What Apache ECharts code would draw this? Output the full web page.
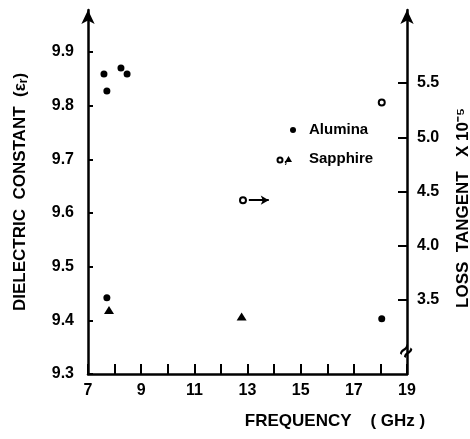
<!DOCTYPE html>
<html>
<head>
<meta charset="utf-8">
<title>Dielectric constant / loss tangent</title>
<script src="https://cdn.jsdelivr.net/npm/echarts@6/dist/echarts.min.js"></script>
<style>
html, body { margin: 0; padding: 0; background: #fff; }
#main { width: 470px; height: 439px; }
</style>
</head>
<body>
<div id="main"></div>
<script>
// tick labels
var freqLabels = [7, 9, 11, 13, 15, 17, 19];
var epsLabels = [9.3, 9.4, 9.5, 9.6, 9.7, 9.8, 9.9];
var lossLabels = [3.5, 4.0, 4.5, 5.0, 5.5];

// dielectric constant, left axis  [GHz, eps_r]
var aluminaDots = [[7.6, 9.859], [8.24, 9.870], [8.47, 9.859], [7.71, 9.827], [7.71, 9.442], [18.05, 9.403]];
var sapphireTriangles = [[7.79, 9.419], [12.78, 9.407]];
// loss tangent x 10^-5, right axis
var sapphireCircles = [[12.83, 4.42], [18.05, 5.32]];
var arrowFrom = [13.05, 4.42];
var arrowTo = [13.8, 4.42];

var FONT = 'Liberation Sans';
var chart = echarts.init(document.getElementById('main'));

var labelStyle = { color: '#000', fontFamily: FONT, fontWeight: 'bold', fontSize: 16 };

var option = {
	backgroundColor: '#fff',
	animation: false,
	grid: [
		{ left: 88, right: 63, top: 10, bottom: 65 },
		{ left: 88, right: 63, top: 83, bottom: 139 }
	],
	xAxis: [{
		gridIndex: 0, type: 'value', min: 7, max: 19, interval: 1,
		axisLine: { lineStyle: { color: '#000', width: 2.5 } },
		axisTick: { inside: true, length: 10, lineStyle: { color: '#000', width: 2 } },
		axisLabel: Object.assign({ margin: 9, formatter: function (v) {
			return freqLabels.indexOf(v) >= 0 ? String(v) : '';
		} }, labelStyle),
		splitLine: { show: false }
	}, {
		gridIndex: 1, type: 'value', min: 7, max: 19, show: false
	}],
	yAxis: [{
		gridIndex: 0, type: 'value', position: 'left', min: 9.3, max: 9.978, interval: 0.1,
		axisLine: { show: true, symbol: ['none', 'arrow'], symbolSize: [10, 14], lineStyle: { color: '#000', width: 2.5 } },
		axisTick: { show: true, inside: true, length: 5, lineStyle: { color: '#000', width: 2 } },
		axisLabel: Object.assign({ margin: 14, showMaxLabel: false, formatter: function (v) {
			var s = v.toFixed(1);
			return epsLabels.indexOf(+s) >= 0 && Math.abs(v - +s) < 1e-6 ? s : '';
		} }, labelStyle),
		splitLine: { show: false }
	}, {
		gridIndex: 0, type: 'value', position: 'right', min: 9.3, max: 9.978,
		axisLine: { show: true, symbol: ['none', 'arrow'], symbolSize: [10, 14], lineStyle: { color: '#000', width: 2.5 } },
		axisTick: { show: false },
		axisLabel: { show: false },
		splitLine: { show: false }
	}, {
		gridIndex: 1, type: 'value', position: 'right', min: 3.5, max: 5.5, interval: 0.5,
		axisLine: { show: false },
		axisTick: { show: true, inside: true, length: 9, lineStyle: { color: '#000', width: 2 } },
		axisLabel: Object.assign({ margin: 10, formatter: function (v) { return v.toFixed(1); } }, labelStyle),
		splitLine: { show: false }
	}],
	series: [{
		name: 'Alumina', type: 'scatter', xAxisIndex: 0, yAxisIndex: 0,
		data: aluminaDots, symbol: 'circle', symbolSize: 7,
		itemStyle: { color: '#000', opacity: 1 }
	}, {
		name: 'Sapphire', type: 'scatter', xAxisIndex: 0, yAxisIndex: 0,
		data: sapphireTriangles, symbol: 'triangle', symbolSize: [10, 8],
		itemStyle: { color: '#000', opacity: 1 }
	}, {
		name: 'Sapphire loss', type: 'scatter', xAxisIndex: 1, yAxisIndex: 2,
		data: sapphireCircles, symbol: 'circle', symbolSize: 6,
		itemStyle: { color: '#fff', borderColor: '#000', borderWidth: 2, opacity: 1 },
		markLine: {
			silent: true, symbol: ['none', 'arrow'], symbolSize: [7, 8],
			lineStyle: { color: '#000', width: 2, type: 'solid', opacity: 1 },
			label: { show: false },
			data: [[{ coord: arrowFrom }, { coord: arrowTo }]]
		}
	}],
	graphic: [{
		type: 'text', x: 20, y: 192, rotation: Math.PI / 2,
		style: {
			text: '{a|DIELECTRIC  CONSTANT  (ε}{b|r}{a|)}',
			align: 'center', verticalAlign: 'middle',
			rich: {
				a: { fontFamily: FONT, fontWeight: 'bold', fontSize: 17, fill: '#000' },
				b: { fontFamily: FONT, fontWeight: 'bold', fontSize: 12, fill: '#000', padding: [8, 0, 0, 0] }
			}
		}
	}, {
		type: 'text', x: 463, y: 208, rotation: Math.PI / 2,
		style: {
			text: 'LOSS  TANGENT   X 10⁻⁵', align: 'center', verticalAlign: 'middle',
			fontFamily: FONT, fontWeight: 'bold', fontSize: 17, fill: '#000'
		}
	}, {
		type: 'text', x: 335, y: 421,
		style: {
			text: 'FREQUENCY    ( GHz )', align: 'center', verticalAlign: 'middle',
			fontFamily: FONT, fontWeight: 'bold', fontSize: 17, fill: '#000'
		}
	}, {
		type: 'text', x: 407, y: 352, rotation: 0.9,
		style: {
			text: '≈', align: 'center', verticalAlign: 'middle',
			fontFamily: FONT, fontWeight: 'bold', fontSize: 22, fill: '#000'
		}
	}, {
		type: 'circle', shape: { cx: 293, cy: 130, r: 3 }, style: { fill: '#000' }
	}, {
		type: 'text', x: 309, y: 130,
		style: { text: 'Alumina', align: 'left', verticalAlign: 'middle', fontFamily: FONT, fontWeight: 'bold', fontSize: 15, fill: '#000' }
	}, {
		type: 'circle', shape: { cx: 280, cy: 160, r: 2.5 }, style: { fill: '#fff', stroke: '#000', lineWidth: 2 }
	}, {
		type: 'text', x: 284, y: 160,
		style: { text: ',', align: 'left', verticalAlign: 'middle', fontFamily: FONT, fontWeight: 'bold', fontSize: 12, fill: '#000' }
	}, {
		type: 'polygon', shape: { points: [[285, 162], [292, 162], [288.5, 156]] }, style: { fill: '#000' }
	}, {
		type: 'text', x: 309, y: 159,
		style: { text: 'Sapphire', align: 'left', verticalAlign: 'middle', fontFamily: FONT, fontWeight: 'bold', fontSize: 15, fill: '#000' }
	}]
};
chart.setOption(option);
</script>
</body>
</html>
